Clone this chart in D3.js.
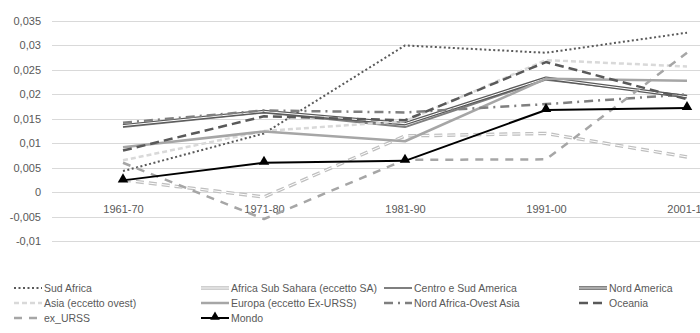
<!DOCTYPE html>
<html>
<head>
<meta charset="utf-8">
<script src="https://cdn.jsdelivr.net/npm/d3@7"></script>
<style>
  body { margin: 0; background: #fff; }
  svg { display: block; font-family: "Liberation Sans", Arial, sans-serif; }
</style>
</head>
<body>
<svg></svg>
<script>
// Chart data
const periods = ["1961-70", "1971-80", "1981-90", "1991-00", "2001-10"];
const yTicks = [0.035, 0.03, 0.025, 0.02, 0.015, 0.01, 0.005, 0, -0.005, -0.01];

const sudAfrica           = [0.0043, 0.0120, 0.0300, 0.0285, 0.0326];
const africaSubSahara     = [0.0025, -0.0010, 0.0115, 0.0120, 0.0072];
const centroSudAmerica    = [0.0133, 0.0163, 0.0133, 0.0230, 0.0197];
const nordAmerica         = [0.0136, 0.0165, 0.0140, 0.0233, 0.0195];
const asiaEccettoOvest    = [0.0065, 0.0125, 0.0145, 0.0270, 0.0257];
const europa              = [0.0092, 0.0124, 0.0104, 0.0232, 0.0228];
const nordAfricaOvestAsia = [0.0142, 0.0167, 0.0163, 0.0180, 0.0200];
const oceania             = [0.0085, 0.0155, 0.0147, 0.0266, 0.0190];
const exURSS              = [0.0060, -0.0055, 0.0066, 0.0067, 0.0285];
const mondo               = [0.0024, 0.0060, 0.0064, 0.0168, 0.0172];

const width = 700, height = 333;

// series styling (drawing order = legend order)
const series = [
  {name: "Sud Africa", values: sudAfrica, color: "#595959", w: 2, dash: "2,2.5"},
  {name: "Africa Sub Sahara (eccetto SA)", values: africaSubSahara, color: "#bfbfbf", w: 3.5, dash: "8,5", double: true},
  {name: "Centro e Sud America", values: centroSudAmerica, color: "#7f7f7f", w: 2, dash: null},
  {name: "Nord America", values: nordAmerica, color: "#595959", w: 3.5, dash: null, double: true},
  {name: "Asia (eccetto ovest)", values: asiaEccettoOvest, color: "#d9d9d9", w: 2.5, dash: "5,3"},
  {name: "Europa (eccetto Ex-URSS)", values: europa, color: "#a6a6a6", w: 2.5, dash: null},
  {name: "Nord Africa-Ovest Asia", values: nordAfricaOvestAsia, color: "#7f7f7f", w: 2.5, dash: "9,5,2,5"},
  {name: "Oceania", values: oceania, color: "#595959", w: 2.5, dash: "9,5"},
  {name: "ex_URSS", values: exURSS, color: "#a6a6a6", w: 2.5, dash: "8,7"},
  {name: "Mondo", values: mondo, color: "#000000", w: 2, dash: null, marker: true}
];

const svg = d3.select("svg").attr("width", width).attr("height", height);

const x = d3.scalePoint().domain(periods).range([52.5, 757.5]).padding(0.5);
const y = d3.scaleLinear().domain([-0.01, 0.035]).range([241, 21]);

const it = d3.formatLocale({decimal: ",", thousands: ".", grouping: [3], currency: ["", "€"], minus: "-"});
const fmt = v => v === 0 ? "0" : it.format("")(+v.toFixed(3));

// gridlines
svg.append("g")
   .selectAll("line")
   .data(yTicks)
   .join("line")
   .attr("x1", 52).attr("x2", width)
   .attr("y1", d => Math.round(y(d)) + 0.5).attr("y2", d => Math.round(y(d)) + 0.5)
   .attr("stroke", "#d9d9d9").attr("stroke-width", 1);

// y axis labels
const yAxis = svg.append("g")
   .attr("transform", "translate(52,0)")
   .call(d3.axisLeft(y).tickValues(yTicks).tickFormat(fmt).tickSize(0).tickPadding(11));
yAxis.select(".domain").remove();
yAxis.selectAll("text").attr("fill", "#595959").attr("font-size", "11px")
     .attr("font-family", "Liberation Sans, Arial, sans-serif");

// x axis labels (sit under the zero line; last one runs off the right edge as in the original)
const xAxis = svg.append("g")
   .attr("transform", `translate(0,${y(0)})`)
   .call(d3.axisBottom(x).tickSize(0).tickPadding(13));
xAxis.select(".domain").remove();
xAxis.selectAll("text").attr("fill", "#595959").attr("font-size", "11px")
     .attr("font-family", "Liberation Sans, Arial, sans-serif");

const line = d3.line().x((d, i) => x(periods[i])).y(d => y(d));

// lines
series.forEach(s => {
  svg.append("path")
     .datum(s.values)
     .attr("d", line)
     .attr("fill", "none")
     .attr("stroke", s.color)
     .attr("stroke-width", s.w)
     .attr("stroke-dasharray", s.dash)
     .attr("stroke-linejoin", "round");
  if (s.double) {
    svg.append("path")
       .datum(s.values)
       .attr("d", line)
       .attr("fill", "none")
       .attr("stroke", "#fff")
       .attr("stroke-width", 1)
       .attr("stroke-dasharray", s.dash)
       .attr("stroke-linejoin", "round");
  }
  if (s.marker) {
    svg.append("g")
       .selectAll("path")
       .data(s.values)
       .join("path")
       .attr("transform", (d, i) => `translate(${x(periods[i])},${y(d) - 1})`)
       .attr("d", d3.symbol(d3.symbolTriangle, 48))
       .attr("fill", s.color);
  }
});

// legend, 4 columns x 3 rows
const colX = [14, 201, 384, 579];
const rowY = [288, 303, 318];
const legend = svg.append("g");
series.forEach((s, i) => {
  const cx = colX[i % 4], cy = rowY[Math.floor(i / 4)];
  const g = legend.append("g").attr("transform", `translate(${cx},${cy})`);
  g.append("line")
   .attr("x1", 0).attr("x2", 28).attr("y1", 0).attr("y2", 0)
   .attr("stroke", s.color).attr("stroke-width", s.w)
   .attr("stroke-dasharray", s.double ? null : s.dash);
  if (s.double) {
    g.append("line")
     .attr("x1", 0).attr("x2", 28).attr("y1", 0).attr("y2", 0)
     .attr("stroke", "#fff").attr("stroke-width", 1);
  }
  if (s.marker) {
    g.append("path")
     .attr("transform", "translate(14,-1)")
     .attr("d", d3.symbol(d3.symbolTriangle, 40))
     .attr("fill", s.color);
  }
  g.append("text")
   .attr("x", 30).attr("y", 4)
   .attr("font-size", "10.5px").attr("fill", "#595959")
   .text(s.name);
});
</script>
</body>
</html>
